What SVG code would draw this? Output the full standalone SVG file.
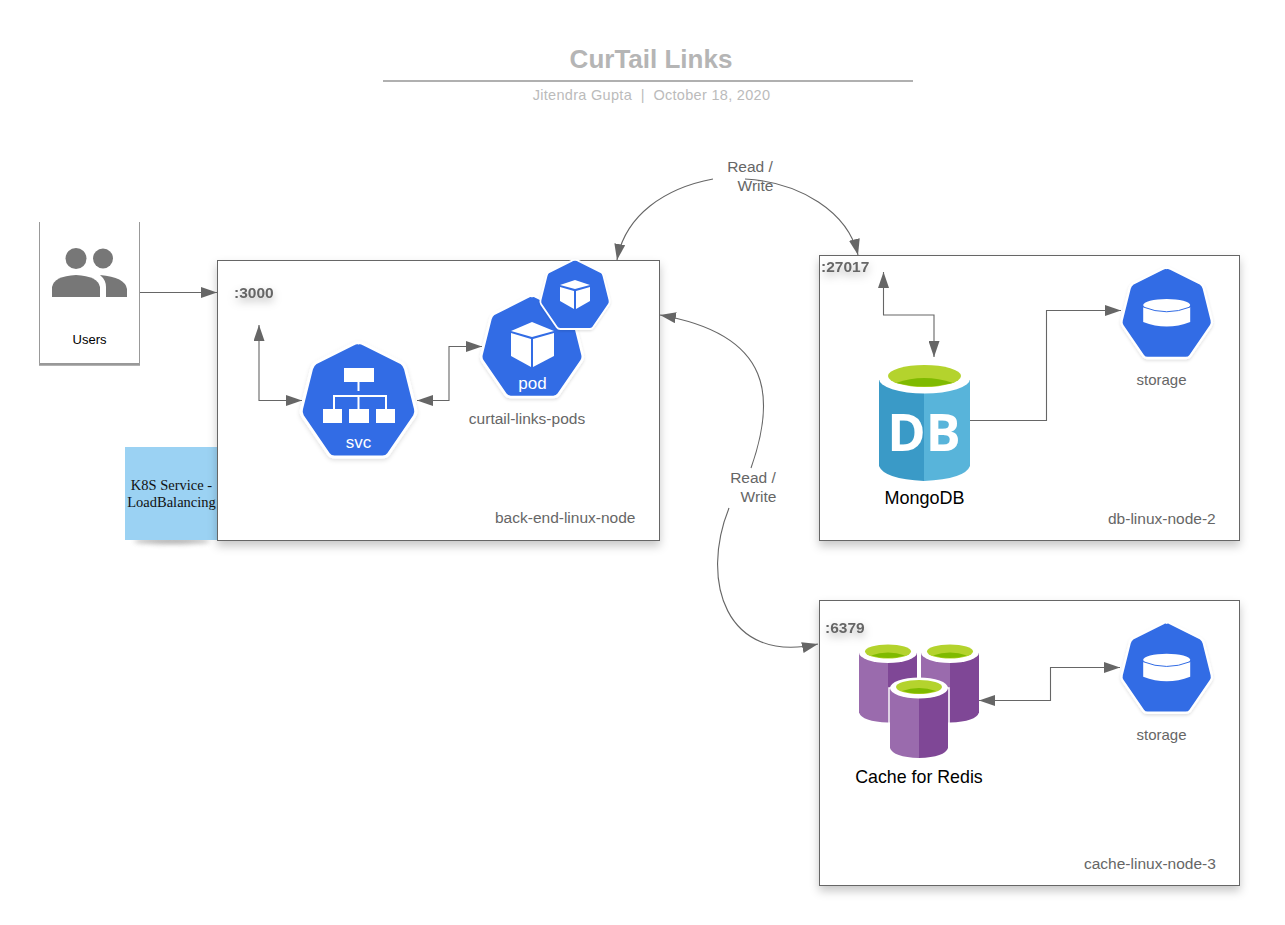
<svg xmlns="http://www.w3.org/2000/svg" width="1285" height="925" viewBox="0 0 1285 925">
<style>
text{font-family:"Liberation Sans",Arial,sans-serif;fill:#666}
.box{fill:#fff;stroke:#666;stroke-width:1;filter:url(#sh)}
.lbl{font-size:15.500px}
.sto{font-size:15px}
.port{font-size:15.500px;font-weight:bold;filter:url(#ts)}
.w{fill:#fff}
.icon{font-size:17px;fill:#fff;text-anchor:middle}
.blk{fill:#000}
.con{fill:none;stroke:#666;stroke-width:1.100;marker-end:url(#a)}
.both{marker-start:url(#a)}
.hept{fill:#326ce5;stroke:#fff;stroke-width:3;stroke-linejoin:round;filter:url(#sh2)}
.note{font-size:14.500px;font-family:"Liberation Serif",serif;fill:#111;text-anchor:middle}
</style>
<defs>
<filter id="sh" x="-10%" y="-10%" width="120%" height="125%"><feDropShadow dx="0" dy="5" stdDeviation="5" flood-color="#000" flood-opacity=".22"/></filter>
<filter id="sh2" x="-15%" y="-15%" width="130%" height="130%"><feDropShadow dx="0" dy="2" stdDeviation="2" flood-color="#000" flood-opacity=".12"/></filter>
<filter id="ts" x="-30%" y="-50%" width="160%" height="250%"><feDropShadow dx="0" dy="4" stdDeviation="4" flood-color="#000" flood-opacity=".3"/></filter>
<filter id="bl" x="-20%" y="-200%" width="140%" height="500%"><feGaussianBlur stdDeviation="2.500"/></filter>
<marker id="a" viewBox="0 0 16 11" refX="16" refY="5.500" markerWidth="16" markerHeight="11" markerUnits="userSpaceOnUse" orient="auto-start-reverse"><path d="M0 0L16 5.500L0 11Z" fill="#666"/></marker>
<path id="h" d="M0 0Q2-1 5 1L43 20Q46 22 47 26L57 66Q58 70 56 73L30 111Q28 114 24 114H-24Q-28 114-30 111L-56 73Q-58 70-57 66L-47 26Q-46 22-43 20L-5 1Q-2-1 0 0Z"/>
<g id="disk"><path class="w" d="M-23.500 0V15Q0 24 23.500 15V0Z"/><ellipse class="w" cx="0" cy="-2" rx="23.500" ry="6"/><path d="M-23.500 0Q0 9.500 23.500 0" fill="none" stroke="#326ce5" stroke-width="1"/></g>
<g id="cyl">
<path d="M0 10V70Q3 79 29 80V10Z" fill="#9a6bad"/><path d="M29 10V80Q55 79 58 70V10Z" fill="#7f4796"/>
<ellipse cx="29" cy="10" rx="29" ry="10.500" fill="#fff"/><ellipse cx="29" cy="9" rx="23" ry="7" fill="#b4d32d"/>
<path d="M12 13Q29 7 46 13Q29 18 12 13Z" fill="#7fba00"/>
</g>
</defs>

<g id="title">
<text x="651" y="68" text-anchor="middle" font-size="26" font-weight="bold" style="fill:#b5b5b5">CurTail Links</text>
<path d="M383 81H913" stroke="#b0b0b0" stroke-width="2" fill="none"/>
<text x="651.500" y="100" text-anchor="middle" font-size="14.500" letter-spacing=".3" xml:space="preserve" style="fill:#bbb">Jitendra Gupta  |  October 18, 2020</text>
</g>

<g id="note-k8s">
<ellipse cx="172" cy="541" rx="38" ry="3" fill="#777" opacity=".6" filter="url(#bl)"/>
<rect x="125" y="447" width="93" height="93" fill="#9bd2f3"/>
<text class="note" x="171.500" y="490">K8S Service -</text>
<text class="note" x="171.500" y="507">LoadBalancing</text>
</g>

<g id="back-end-linux-node">
<rect class="box" x="217.500" y="260.500" width="442" height="280"/>
<text class="lbl" x="495" y="523">back-end-linux-node</text>
<text class="port" x="234" y="298">:3000</text>
</g>
<g id="db-linux-node-2">
<rect class="box" x="819.500" y="255.500" width="420" height="285"/>
<text class="lbl" x="1108" y="524">db-linux-node-2</text>
<text class="port" x="821" y="272">:27017</text>
</g>
<g id="cache-linux-node-3">
<rect class="box" x="819.500" y="600.500" width="420" height="285"/>
<text class="lbl" x="1084" y="869">cache-linux-node-3</text>
<text class="port" x="825" y="633">:6379</text>
</g>

<g id="users">
<path d="M39.500 222V363.500H139.500V222" fill="#fff" stroke="#999" stroke-width="1"/>
<path d="M39 364.500H140" stroke="#999" stroke-width="2.500"/>
<circle cx="76" cy="258.500" r="10.500" fill="#777"/><circle cx="103" cy="258.500" r="10" fill="#777"/>
<path d="M52 297V287Q54 276 76 275Q98 276 100 287V297Z" fill="#777"/>
<path d="M100 275Q125 277 127 289V297H106V287Q106 280 100 275Z" fill="#777"/>
<text x="89.500" y="344" text-anchor="middle" font-size="13" class="blk">Users</text>
</g>

<g id="svc">
<use href="#h" class="hept" transform="translate(358.500 343)"/>
<path d="M358.500 382V391M334 410V396H386V410M358.500 396V410" fill="none" stroke="#fff" stroke-width="2"/>
<rect class="w" x="344" y="368" width="30" height="14"/>
<rect class="w" x="323" y="409" width="19" height="14"/><rect class="w" x="349" y="409" width="20" height="14"/><rect class="w" x="376" y="409" width="19" height="14"/>
<text class="icon" x="358.500" y="448">svc</text>
</g>

<g id="pod">
<use href="#h" class="hept" transform="translate(532 296) scale(.886)"/>
<path class="w" d="M532 322L554 331L532 337L511 331Z"/>
<path class="w" d="M511 333L531 339V367L511 356Z"/><path class="w" d="M554 333L533 339V367L554 356Z"/>
<text class="icon" x="532.500" y="389">pod</text>
</g>
<g id="pod-small">
<use href="#h" class="hept" transform="translate(575 260) scale(.605)"/>
<path class="w" d="M575 280L590 285L575 289L560 285Z"/>
<path class="w" d="M560 287L574 291V309L560 301Z"/><path class="w" d="M590 287L576 291V309L590 301Z"/>
</g>
<text id="curtail-links-pods" class="lbl" x="527" y="424" text-anchor="middle">curtail-links-pods</text>

<g id="mongodb">
<path d="M879 380V466Q884 479 924 481V380Z" fill="#3a9ac7"/>
<path d="M924 380V481Q965 479 970 466V380Z" fill="#58b4da"/>
<ellipse cx="924.500" cy="379" rx="45.500" ry="14.500" fill="#fff"/>
<ellipse cx="924.500" cy="376" rx="36.500" ry="11" fill="#b4d32d"/>
<path d="M896 383Q924 373 953 383Q924 390 896 383Z" fill="#7fba00"/>
<text x="924" y="451" text-anchor="middle" font-size="52" font-weight="bold" class="w" style="font-family:'Open Sans',sans-serif">DB</text>
<text x="924.500" y="504" text-anchor="middle" font-size="18" class="blk">MongoDB</text>
</g>

<g id="storage-1">
<use href="#h" class="hept" transform="translate(1166.700 268) scale(.79)"/>
<use href="#disk" transform="translate(1166.700 307)"/>
<text class="sto" x="1161.500" y="385" text-anchor="middle">storage</text>
</g>

<g id="cache-redis">
<use href="#cyl" transform="translate(859 642.500)"/>
<use href="#cyl" transform="translate(921 642.500)"/>
<path d="M889 688V752Q892 761 919 761Q946 761 949 752V688Z" fill="none" stroke="#fff" stroke-width="1.500"/>
<use href="#cyl" transform="translate(890 678)"/>
<text x="919" y="783" text-anchor="middle" font-size="17.800" class="blk">Cache for Redis</text>
</g>

<g id="storage-2">
<use href="#h" class="hept" transform="translate(1166.700 622.700) scale(.79)"/>
<use href="#disk" transform="translate(1166.700 661.700)"/>
<text class="sto" x="1161.500" y="740" text-anchor="middle">storage</text>
</g>

<g id="connectors">
<path class="con" d="M140 292.500H217"/>
<path class="con both" d="M259 325V400.500H302"/>
<path class="con both" d="M417 400.500H449V346.500H482"/>
<path class="con both" d="M883.500 272V315H934V357"/>
<path class="con" d="M970 420.500H1046.500V310.500H1121"/>
<path class="con both" d="M979 700.500H1050.500V667.500H1120"/>
<path class="con" d="M713 179C665 188 625 215 617 260"/>
<path class="con" d="M745 179C800 182 848 212 858 255"/>
<path class="con" d="M751 468C775 400 775 335 660 315"/>
<path class="con" d="M729 508C700 580 725 665 818 644"/>
</g>
<g id="connector-labels">
<text class="lbl" x="750" y="172" text-anchor="middle">Read /</text>
<text class="lbl" x="755.500" y="191" text-anchor="middle">Write</text>
<text class="lbl" x="753" y="483" text-anchor="middle">Read /</text>
<text class="lbl" x="758.500" y="502" text-anchor="middle">Write</text>
</g>
</svg>
